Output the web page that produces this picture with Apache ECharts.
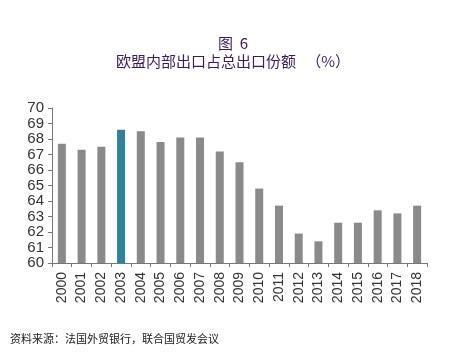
<!DOCTYPE html>
<html>
<head>
<meta charset="utf-8">
<script src="https://cdn.jsdelivr.net/npm/echarts@6/dist/echarts.min.js"></script>
<style>html,body{margin:0;padding:0;background:#fff;}#c{width:466px;height:355px;}</style>
</head>
<body>
<div id="c"></div>
<script>
const categories = ['2000','2001','2002','2003','2004','2005','2006','2007','2008','2009','2010','2011','2012','2013','2014','2015','2016','2017','2018'];
const shareValues = [67.7,67.3,67.5,68.6,68.5,67.8,68.1,68.1,67.2,66.5,64.8,63.7,61.9,61.4,62.6,62.6,63.4,63.2,63.7];
const highlightYear = '2003';
const yTickLabels = ['60','61','62','63','64','65','66','67','68','69','70'];

const chart = echarts.init(document.getElementById('c'));
chart.setOption({
  animation: false,
  backgroundColor: '#fff',
  title: {
    text: '图  6\n欧盟内部出口占总出口份额   （%）',
    left: 'center',
    top: 29,
    textStyle: { fontFamily: 'Noto Sans CJK SC', fontSize: 15, fontWeight: 'normal', color: '#3a1c52', lineHeight: 18, align: 'center', textShadowColor: 'rgba(58,28,82,0.5)', textShadowBlur: 0, textShadowOffsetX: 0.4 }
  },
  graphic: [{
    type: 'text', left: 10, top: 333,
    style: { text: '资料来源：法国外贸银行，联合国贸发会议', fontFamily: 'Noto Sans CJK SC', fontSize: 11, fill: '#222' }
  }],
  grid: { left: 52, right: 39, top: 108, bottom: 92, containLabel: false },
  xAxis: {
    type: 'category',
    data: categories,
    axisLine: { lineStyle: { color: '#777', width: 1 } },
    axisTick: { show: true, alignWithLabel: false, length: 4, lineStyle: { color: '#777' } },
    axisLabel: { rotate: 90, fontSize: 14, color: '#333', fontFamily: 'Liberation Sans', margin: 9 }
  },
  yAxis: {
    type: 'value', min: 60, max: 70, interval: 1,
    axisLine: { show: true, lineStyle: { color: '#777', width: 1 } },
    axisTick: { show: true, length: 4, lineStyle: { color: '#777' } },
    splitLine: { show: false },
    axisLabel: { fontSize: 15, color: '#333', fontFamily: 'Liberation Sans', margin: 8,
      formatter: v => yTickLabels[Math.round(v - 60)] }
  },
  series: [{
    type: 'bar',
    barWidth: 8,
    data: shareValues.map((v, i) => ({
      value: v,
      itemStyle: { color: categories[i] === highlightYear ? '#2e8299' : '#8a8a8a' }
    }))
  }]
});
</script>
</body>
</html>
